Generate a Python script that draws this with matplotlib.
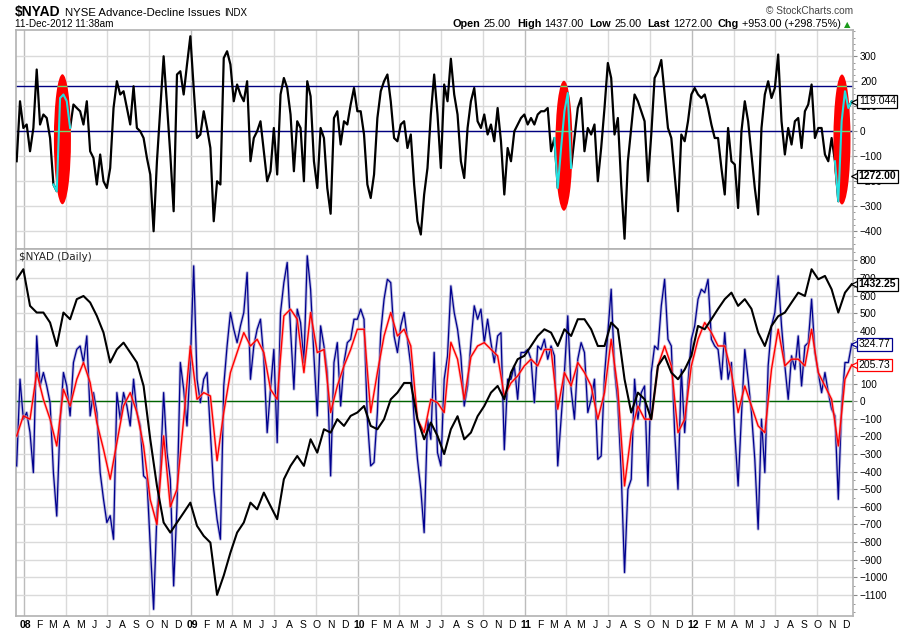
## NYSE advance-decline chart, two panels
import datetime as dt
import numpy as np
import matplotlib
matplotlib.use("Agg")
import matplotlib.pyplot as plt
from matplotlib.patches import Ellipse
from matplotlib.ticker import MultipleLocator
from matplotlib.transforms import offset_copy

plt.rcParams['font.family'] = ['Liberation Sans', 'DejaVu Sans']

## Values. Fine series: one value every 1/50 year,
## coarse series: one value every 1/25 year, both starting mid Dec 2007
T0 = 2007.956
STEP_FINE = 1 / 50
STEP_COARSE = 1 / 25

## top panel oscillator
osc = [
    -120, 120, 13, 27, -80, 13, 247, 27, 67, 53,
    -27, -213, -240, 133, 147, 120, 13, 107, 93, 80,
    27, 120, -80, -107, -213, -93, -200, -227, -147, 93,
    200, 147, 160, 93, 27, 180, 13, 0, -27, -107,
    -173, -400, -120, 93, 300, 107, -93, -320, 227, 240,
    147, 267, 380, 173, -27, -13, 80, 13, -67, -360,
    -200, -213, 293, 320, 267, 120, 187, 147, 120, 200,
    -120, -27, 0, 40, -80, -200, -160, 13, -173, 147,
    213, 173, 67, -160, 40, 13,
    -200, 200, 140, -120, -227, 13, -27, -227, -330, 53,
    80, -53, 40, 27, 107, 173, 80, 80, -13, -213,
    -267, -173, 53, 160, 200, 227, 120, -27, -40, 27,
    40, -67, -13, -213, -360, -413, -253, -147, 67, 227,
    67, -147, 187, 120, 290, 147, 67, -120, -187, 13,
    120, 173, 40, 13, 67, -13, 27, -40, 93, -40,
    -253, -67, -120, 0, 27, 53, 67, 27, 53, 27,
    67, 80, 80, 93, -80, -27, -227, -67, 80, 153,
    -147, -27, 93, 133,
    -80, 13, -13, 27, -200, -67, 93, 273, 213, -13,
    53, -213, -430, -120, 13, 147, 120, 80, 40, -200,
    -13, 213, 240, 285, 147, 13, -27, -173, -320, -13,
    -40, 40, 147, 173, 147, 133, 147, 93, 27, -27,
    -27, -147, -253, 13, -120, -133, -307, 0, 120, 40,
    -93, -227, -333, 13, 147, 200, 133, 173, 307, 40,
    -93, 13, -53, 40, 53, -67, 80, 107, 187, -27,
    13, 13, -93, -120, -27, -120, -280, 40, 160, 93,
    119,
]

## bottom panel, blue line (fine)
ad_blue = [
    -367, 125, -102, -64, -178, -405, 371, 87, 163, 87,
    -8, -405, -652, -121, 163, 87, -83, 220, 295, 314,
    220, 371, -83, 49, -64, -405, -557, -689, -650, -784,
    49, -102, 49, -27, -140, 125, -64, -140, -424, -443,
    -822, -1182, -633, -405, 49, -292, -443, -1049, -595, 220,
    68, -140, 220, 769, 125, -8, 125, 163, -178, -500,
    -670, -784, 87, 314, 504, 409, 333, 428, 504, 731,
    125, 314, 409, 466, 239, -178, 68, 295, -235, 504,
    674, 788, 409, 68, 523, 447,
    220, 826, 636, 256, -83, 428, 314, 163, -424, 220,
    333, -27, 220, 333, 352, 466, 466, 523, 466, -102,
    -367, -348, -64, 390, 580, 693, 674, 371, 277, 428,
    504, 352, 201, -102, -330, -500, -746, -102, -216, 277,
    -292, -367, 125, 256, 655, 504, 409, 256, -27, 87,
    333, 542, 466, 523, 333, 466, 333, 220, 371, 390,
    -275, 125, 125, 201, 11, 277, 277, 294, 239, -8,
    314, 294, 352, 239, 314, 258, -367, -102, 163, 485,
    68, -102, 239, 333,
    277, -64, 11, 125, -330, -311, 144, 390, 636, 180,
    -8, -405, -973, -500, -443, 125, -102, 49, 87, -481,
    163, 314, 294, 542, 693, 352, 314, -178, -500, 180,
    -178, 104, 352, 428, 580, 636, 617, 693, 352, 314,
    294, 125, 390, 125, 220, -178, -481, -83, 294, 125,
    -64, -330, -727, -102, -405, 201, 428, 504, 712, 428,
    201, 11, 258, 182, 371, 87, 314, 333, 580, 277,
    163, 49, 163, 49, -44, -83, -557, -27, 220, 220,
    325,
]

## bottom panel, red line (coarse)
ad_red = [
    -197, -83, -102, 163, 11, -102, -254, 68, -27, 125,
    220, 106, -121, -273, -443, -235, -27, 49, -64, -254,
    -560, -700, -197, -600, -500, -102, 314, 11, 49, 30,
    -337, -64, 163, 277, 390, 314, 352, 277, 68, 11,
    485, 523, 466,
    163, 504, 277, 294, -64, 87, 201, 294, 409, 409,
    -64, 163, 371, 504, 371, 409, 314, -102, -178, 11,
    -8, -64, 335, 239, 11, 252, 314, 333, 295, 258,
    30, 104, 144, 201, 239, 201, 294, 294, -45, 163,
    87, 220,
    163, 87, -102, 49, 352, 68, -481, -178, -27, -102,
    -102, 201, 314, 201, -178, -102, 201, 352, 447, 390,
    314, 314, 163, -64, 87, -27, -140, -178, 182, 409,
    201, 239, 239, 201, 409, 163, 87, 11, -254, 125,
    206,
]

## bottom panel, black line (coarse), in the panel's own units
ad_black = [
    693, 750, 542, 504, 504, 447, 314, 504, 466, 580,
    598, 561, 485, 390, 220, 295, 333, 277, 220, 87,
    -216, -481, -689, -746, -689, -633, -576, -708, -765, -803,
    -1100, -990, -860, -746, -689, -576, -614, -519, -595, -670,
    -443, -367, -311,
    -367, -216, -292, -159, -178, -102, -140, -83, -64, -27,
    -140, -159, -102, 11, 49, 104, 104, -102, -216, -121,
    -197, -300, -159, -85, -216, -178, -85, -27, 49, 87,
    11, 163, 239, 258, 314, 371, 409, 390, 314, 409,
    371, 466,
    466, 409, 314, 314, 447, 409, 125, -64, 49, 11,
    -102, 201, 258, 163, 125, 180, 258, 428, 409, 466,
    525, 580, 617, 542, 580, 525, 390, 314, 428, 483,
    504, 561, 617, 598, 750, 693, 712, 636, 504, 617,
    665,
]

## red ellipses drawn on the top panel
hl_dates = [2008.230, 2011.233, 2012.898]
hl_levels = [-32, -58, -33]
HL_W, HL_H = 0.102, 520

## texts
top_tags = [("119.044", 119, False), ("1272.00", -180, True)]
bottom_tag_texts = ["1432.25", "324.77", "205.73"]
quote = [("Open", "25.00"), ("High", "1437.00"), ("Low", "25.00"),
         ("Last", "1272.00"), ("Chg", "+953.00 (+298.75%)")]
month_letters = "JFMAMJJASOND"

## layout helpers (pixels of the 900x633 picture)
W, H = 900, 633
GRID = '#dadada'
YEARGRID = '#bcbcbc'
FRAME = '#b2b2b2'
XMIN, XMAX = 2007.952, 2012.964


def box(l, t, r, b):
    return [l / W, 1 - b / H, (r - l) / W, (b - t) / H]


def month_pos(y, m):
    start = dt.date(y, 1, 1)
    n = (dt.date(y + 1, 1, 1) - start).days
    return y + (dt.date(y, m, 1) - start).days / n


fig = plt.figure(figsize=(9, 6.33), dpi=100)
ax1 = fig.add_axes(box(16, 30, 853, 249))
ax2 = fig.add_axes(box(16, 249, 853, 616))

months = [(y, m) for y in range(2008, 2013) for m in range(1, 13)]

for ax in (ax1, ax2):
    ax.set_xlim(XMIN, XMAX)
    for y, m in months:
        if m in (1, 4, 7, 10):
            ax.axvline(month_pos(y, m), color=YEARGRID if m == 1 else GRID,
                       lw=1.0, zorder=0)
    for s in ax.spines.values():
        s.set_color(FRAME)
        s.set_linewidth(1.2)
    ax.yaxis.tick_right()
    ax.grid(axis='y', color=GRID, lw=1.0, zorder=0)
    ax.set_axisbelow(True)
    ax.tick_params(axis='y', which='both', colors='#888888', labelcolor='black',
                   labelsize=7.2, length=3, pad=2)
    ax.tick_params(axis='y', which='minor', length=1.5)

## top panel
ax1.set_ylim(-471, 405)
ax1.set_yticks(range(-400, 301, 100))
ax1.yaxis.set_minor_locator(MultipleLocator(25))
ax1.set_xticks([])

t_fine = T0 + STEP_FINE * np.arange(len(osc))
osc_arr = np.array(osc, dtype=float)
ax1.axhline(180, color='#000080', lw=1.0, zorder=2)
ax1.axhline(0, color='#000080', lw=1.0, zorder=2)
ax1.plot(t_fine, osc_arr, color='black', lw=1.6, zorder=3)

for c, lvl in zip(hl_dates, hl_levels):
    e = Ellipse((c, lvl), HL_W, HL_H, fc='#ff0000', ec='none', zorder=4)
    ax1.add_patch(e)
    for lv in (180, 0):
        ln = ax1.axhline(lv, color='#6fdc6f', lw=1.0, zorder=5)
        ln.set_clip_path(e)
    idx = np.where(np.abs(t_fine - c) <= HL_W / 2 + STEP_FINE / 2)[0]
    ax1.plot(t_fine[idx], osc_arr[idx], color='#22e0e0', lw=1.5, zorder=6)


def tag(ax, yval, text, ec, bold=False):
    ## small pointer, then a white box that hides the tick label below it
    ptr = offset_copy(ax.get_yaxis_transform(), fig=fig, x=2.2, y=0, units='points')
    ax.plot([1.0], [yval], marker='<', ms=7.5, mfc='white', mec=ec, mew=0.9,
            transform=ptr, clip_on=False, zorder=9)
    ax.annotate(text, xy=(1, yval), xycoords=('axes fraction', 'data'),
                xytext=(4.2, 0), textcoords='offset points', ha='left', va='center',
                fontsize=7.5, fontweight='bold' if bold else 'normal',
                bbox=dict(boxstyle='square,pad=0.14', fc='white', ec=ec, lw=0.9),
                annotation_clip=False, zorder=10)


for txt, yv, bold in top_tags:
    tag(ax1, yv, txt, 'black', bold)

## bottom panel
ax2.set_ylim(-1220, 865)
ax2.set_yticks(range(-1100, 801, 100))
ax2.yaxis.set_minor_locator(MultipleLocator(50))

t_coarse = T0 + STEP_COARSE * np.arange(len(ad_red))
ax2.axhline(0, color='#006400', lw=1.0, zorder=2)
ax2.plot(t_fine, ad_blue, color='#8c8cc8', lw=2.2, alpha=0.55, zorder=3)
ax2.plot(t_fine, ad_blue, color='#00008f', lw=0.9, zorder=3)
ax2.plot(t_coarse, ad_red, color='#ff9c9c', lw=2.2, alpha=0.55, zorder=4)
ax2.plot(t_coarse, ad_red, color='#ff0000', lw=1.0, zorder=4)
ax2.plot(t_coarse, ad_black, color='black', lw=1.5, zorder=5)

tag(ax2, ad_black[-1], bottom_tag_texts[0], 'black', True)
tag(ax2, ad_blue[-1], bottom_tag_texts[1], '#00008f')
tag(ax2, ad_red[-1], bottom_tag_texts[2], '#ff0000')

ax2.text(0.003, 0.978, "$NYAD (Daily)", transform=ax2.transAxes, ha='left',
         va='center', fontsize=7.5, family='DejaVu Sans', color='#222222')

## month labels
ticks = [month_pos(y, m) + 0.006 for y, m in months]
labels = [("%02d" % (y % 100)) if m == 1 else month_letters[m - 1] for y, m in months]
ax2.set_xticks(ticks)
ax2.set_xticklabels(labels)
for lab, (y, m) in zip(ax2.get_xticklabels(), months):
    if m == 1:
        lab.set_fontweight('bold')
        lab.set_fontsize(8.5)
ax2.tick_params(axis='x', labelsize=7.5, length=0, pad=3)

## header texts
fig.canvas.draw()
r = fig.canvas.get_renderer()


def runs(x, y, parts):
    for s, gap, kw in parts:
        t = fig.text(x / W, 1 - y / H, s, ha='left', va='baseline', **kw)
        x += t.get_window_extent(r).width + gap


runs(15, 16, [("$NYAD", 4, dict(fontsize=10, fontweight='bold')),
              ("NYSE Advance-Decline Issues", 4, dict(fontsize=8.2)),
              ("INDX", 0, dict(fontsize=7))])
fig.text(15 / W, 1 - 27 / H, "11-Dec-2012 11:38am", ha='left', va='baseline',
         fontsize=7.2)
fig.text(853 / W, 1 - 14 / H, "\u00a9 StockCharts.com", ha='right', va='baseline',
         fontsize=7.3, color='#444444')

parts = []
for name, val in quote:
    parts.append((name, 3, dict(fontsize=7.8, fontweight='bold')))
    parts.append((val, 6, dict(fontsize=7.8)))
parts[-1] = (parts[-1][0], 3, parts[-1][2])
parts.append(("\u25b2", 0, dict(fontsize=6, color='#1a9a1a', family='DejaVu Sans')))
runs(453, 27, parts)

fig.savefig("out.png", dpi=100)
